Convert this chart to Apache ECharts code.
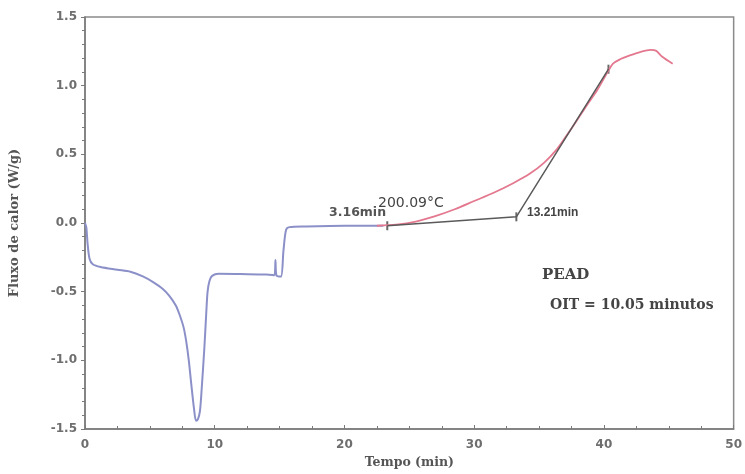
<!DOCTYPE html>
<html>
<head>
<meta charset="utf-8">
<script src="https://cdn.jsdelivr.net/npm/echarts@6/dist/echarts.min.js"></script>
<style>html,body{margin:0;padding:0;background:#fff}#c{width:745px;height:474px}</style>
</head>
<body>
<div id="c"></div>
<script>
// Blue segment (start of run, melting, switch to O2)
var blueX = [0, 0.1, 0.2, 0.35, 0.6, 1.2, 2.5, 3.5, 4.5, 5.25, 6.0, 6.5, 7.0, 7.3, 7.6, 7.8, 8.0, 8.2, 8.4, 8.56, 8.7, 8.86, 9.0, 9.2, 9.35, 9.45, 9.6, 9.8, 10.3, 12, 14.0, 14.6, 14.68, 14.75, 15.1, 15.3, 15.5, 15.75, 17, 20, 23];
var blueY = [0.0, -0.03, -0.15, -0.26, -0.30, -0.32, -0.34, -0.355, -0.39, -0.43, -0.48, -0.53, -0.6, -0.67, -0.76, -0.86, -1.0, -1.18, -1.35, -1.44, -1.43, -1.37, -1.2, -0.91, -0.65, -0.5, -0.42, -0.385, -0.37, -0.372, -0.375, -0.38, -0.27, -0.38, -0.39, -0.2, -0.05, -0.03, -0.025, -0.02, -0.02];
// Red segment (oxidation exotherm)
var redX = [22.5, 24, 25.5, 27, 28.5, 30, 31.5, 33, 34.3, 35.4, 36.4, 37, 37.8, 38.7, 39.5, 40.35, 40.7, 41.2, 42, 42.8, 43.6, 44.0, 44.5, 45.3];
var redY = [-0.02, -0.012, 0.01, 0.05, 0.1, 0.16, 0.22, 0.29, 0.36, 0.44, 0.54, 0.62, 0.73, 0.86, 0.97, 1.11, 1.16, 1.19, 1.22, 1.245, 1.26, 1.255, 1.21, 1.16];
// Tangent construction lines (gray)
var tanX = [23.3, 33.25, 40.35];
var tanY = [-0.02, 0.045, 1.12];
// Axis settings
var xTicks = [0, 10, 20, 30, 40, 50];
var yTicks = [-1.5, -1.0, -0.5, 0.0, 0.5, 1.0, 1.5];
var labels = {
  onsetStart: '3.16min',
  temp: '200.09°C',
  onset: '13.21min',
  sample: 'PEAD',
  oit: 'OIT = 10.05 minutos'
};

function zip(xs, ys) { return xs.map(function (x, i) { return [x, ys[i]]; }); }

var chart = echarts.init(document.getElementById('c'), null, {renderer: 'canvas'});
var axisColor = '#7a7a7a';
var tickFont = {color: '#6e6e6e', fontFamily: 'DejaVu Sans', fontWeight: 'bold', fontSize: 12};
chart.setOption({
  animation: false,
  backgroundColor: '#fff',
  grid: {left: 84, right: 3, top: 17, bottom: 42, show: true, borderColor: '#8a8a8a', borderWidth: 1.5},
  xAxis: {
    type: 'value', min: xTicks[0], max: xTicks[xTicks.length - 1], interval: 10,
    name: 'Tempo (min)', nameLocation: 'middle', nameGap: 27,
    nameTextStyle: {fontFamily: 'DejaVu Serif', fontWeight: 'bold', fontSize: 12.5, color: '#555'},
    axisLine: {onZero: false, lineStyle: {color: axisColor, width: 1.5}},
    axisTick: {inside: true, length: 4, lineStyle: {color: axisColor}},
    minorTick: {show: true, splitNumber: 4, length: 3, lineStyle: {color: axisColor}},
    axisLabel: Object.assign({margin: 10}, tickFont),
    splitLine: {show: false}
  },
  yAxis: {
    type: 'value', min: yTicks[0], max: yTicks[yTicks.length - 1], interval: 0.5,
    name: 'Fluxo de calor (W/g)', nameLocation: 'middle', nameGap: 64, nameRotate: 90,
    nameTextStyle: {fontFamily: 'DejaVu Serif', fontWeight: 'bold', fontSize: 13, color: '#555'},
    axisLine: {onZero: false, lineStyle: {color: axisColor, width: 1.5}},
    axisTick: {inside: false, length: 4, lineStyle: {color: axisColor}},
    minorTick: {show: true, splitNumber: 5, length: 3, lineStyle: {color: axisColor}},
    axisLabel: Object.assign({margin: 8, formatter: function (v) { return v.toFixed(1); }}, tickFont),
    splitLine: {show: false}
  },
  series: [
    {type: 'line', data: zip(blueX, blueY), smooth: 0.3, showSymbol: false,
     lineStyle: {color: '#8c90c8', width: 2}},
    {type: 'line', data: zip(redX, redY), smooth: 0.3, showSymbol: false,
     lineStyle: {color: '#e3788f', width: 1.8}},
    {type: 'line', data: zip(tanX, tanY), showSymbol: false,
     lineStyle: {color: '#5a5a5a', width: 1.5}},
    {type: 'scatter', data: zip(tanX, tanY), symbol: 'rect', symbolSize: [2, 9],
     itemStyle: {color: '#444'}}
  ],
  graphic: [
    {type: 'text', left: 329, top: 206, style: {text: labels.onsetStart, font: 'bold 12.5px "DejaVu Sans"', fill: '#555'}},
    {type: 'text', left: 378, top: 196, style: {text: labels.temp, font: '14px "DejaVu Sans"', fill: '#444'}},
    {type: 'text', left: 527, top: 207, style: {text: labels.onset, font: 'bold 12px "Liberation Sans"', fill: '#444'}},
    {type: 'text', left: 542, top: 268, style: {text: labels.sample, font: 'bold 15px "DejaVu Serif"', fill: '#444'}},
    {type: 'text', left: 550, top: 298, style: {text: labels.oit, font: 'bold 14px "DejaVu Serif"', fill: '#444'}}
  ]
});
</script>
</body>
</html>
